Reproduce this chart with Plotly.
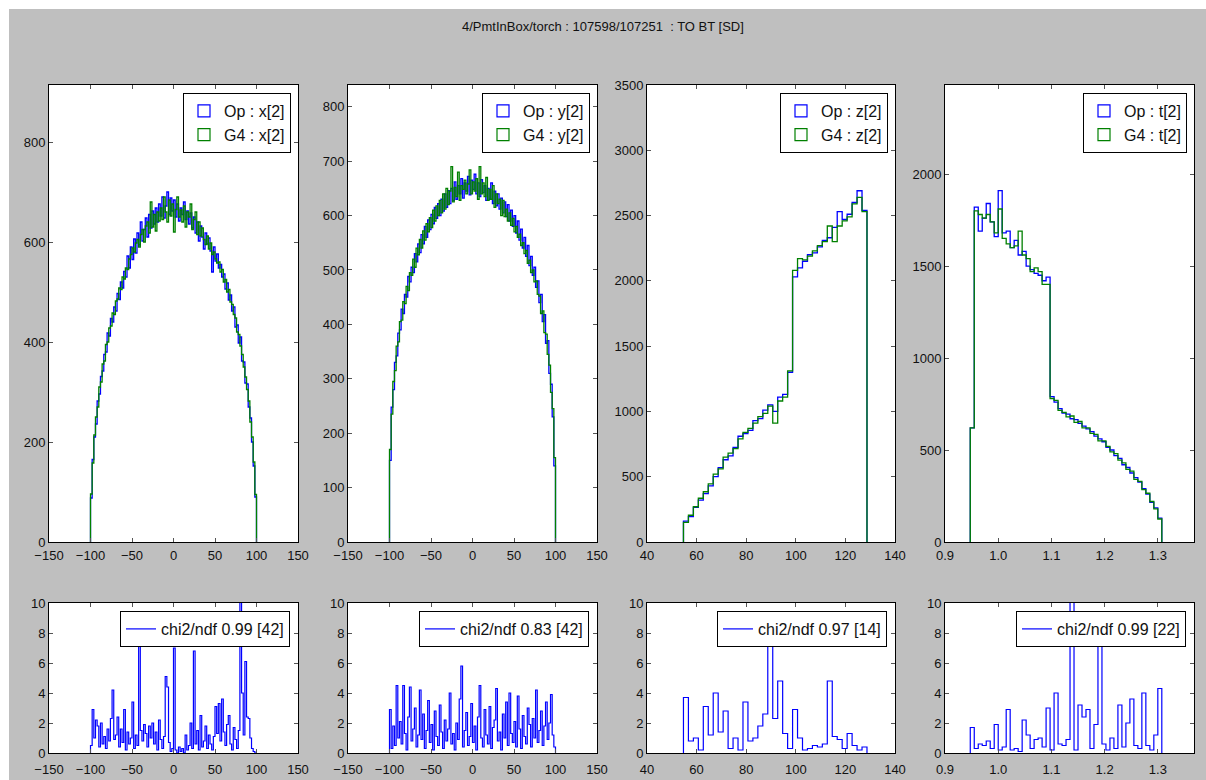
import numpy as np
import plotly.graph_objects as go

TITLE = "4/PmtInBox/torch : 107598/107251  : TO BT [SD]"

# ---------------- x[2] : bins of width 2 from -100 ----------------
x_bin_lo, x_bin_w = -100.0, 2.0
x_op = [88, 165, 210, 236, 282, 296, 331, 342, 375, 380,
        418, 412, 447, 440, 470, 462, 497, 485, 520, 508,
        541, 530, 572, 548, 590, 565, 606, 578, 618, 594,
        640, 602, 625, 648, 610, 655, 628, 662, 636, 668,
        640, 676, 652, 690, 648, 672, 700, 655, 688, 662,
        684, 650, 676, 642, 668, 655, 680, 645, 662, 636,
        658, 628, 650, 618, 640, 602, 632, 610, 586, 618,
        596, 608, 582, 540, 590, 562, 576, 548, 555, 530,
        536, 506, 518, 484, 494, 462, 470, 430, 434, 398,
        410, 362, 360, 318, 316, 270, 248, 200, 152, 90]
x_g4 = [96, 158, 214, 250, 270, 310, 320, 356, 362, 395,
        400, 428, 432, 458, 455, 482, 486, 508, 505, 530,
        526, 548, 545, 566, 575, 588, 580, 598, 605, 590,
        615, 625, 600, 632, 640, 618, 680, 630, 655, 622,
        660, 642, 668, 645, 690, 660, 640, 684, 652, 676,
        620, 665, 690, 650, 664, 640, 672, 630, 660, 650,
        676, 625, 645, 660, 615, 640, 612, 628, 605, 595,
        612, 586, 598, 575, 580, 566, 558, 560, 540, 545,
        520, 525, 500, 505, 480, 475, 455, 448, 420, 415,
        392, 375, 350, 330, 305, 282, 240, 210, 160, 95]
x_chi2 = [0.5, 2.9, 1.0, 2.2, 1.8, 0.4, 2.0, 0.6, 1.1, 0.3,
          1.6, 0.8, 2.3, 4.2, 0.9, 1.2, 2.4, 0.4, 1.6, 0.7,
          2.9, 0.2, 1.4, 0.6, 1.0, 3.4, 0.3, 1.2, 0.5, 7.7,
          1.5, 0.8, 1.9, 1.3, 0.4, 1.8, 1.0, 2.0, 0.6, 1.4,
          0.2, 2.2, 0.9, 0.3, 1.1, 5.1, 4.4, 0.7, 0.1, 0.3,
          7.0, 0.2, 0.0, 0.4, 0.1, 0.3, 0.0, 1.2, 0.2, 0.5,
          2.0, 0.3, 6.8, 0.6, 1.5, 0.2, 2.5, 0.4, 0.8, 1.8,
          0.3, 1.2, 0.6, 0.2, 1.1, 3.1, 1.3, 3.3, 0.8, 3.6,
          1.4, 0.5, 1.9, 2.5, 0.6, 0.2, 1.7, 0.9, 0.3, 1.5,
          10.5, 4.0, 1.2, 6.1, 2.4, 2.3, 1.0, 0.3, 0.1, 0.0]
x_chi2_label = "chi2/ndf 0.99 [42]"

# ---------------- y[2] : bins of width 2 from -100 ----------------
y_bin_lo, y_bin_w = -100.0, 2.0
y_op = [150, 248, 280, 330, 342, 384, 390, 428, 420, 455,
        450, 488, 478, 505, 495, 530, 515, 548, 532, 565,
        548, 580, 560, 592, 574, 602, 585, 615, 595, 622,
        600, 630, 608, 640, 615, 646, 622, 650, 628, 662,
        630, 655, 640, 668, 632, 660, 645, 672, 638, 665,
        648, 676, 640, 660, 635, 666, 642, 655, 628, 650,
        630, 660, 622, 645, 618, 640, 612, 632, 605, 625,
        598, 620, 590, 610, 580, 600, 568, 590, 555, 575,
        540, 560, 525, 545, 508, 525, 490, 505, 468, 480,
        440, 455, 405, 418, 365, 370, 310, 290, 230, 140]
y_g4 = [170, 235, 295, 315, 360, 368, 405, 408, 442, 438,
        470, 462, 495, 490, 520, 505, 540, 528, 556, 540,
        572, 555, 585, 570, 596, 578, 610, 590, 618, 600,
        628, 605, 640, 612, 650, 620, 645, 690, 625, 652,
        635, 680, 628, 655, 648, 665, 640, 658, 684, 640,
        662, 645, 668, 630, 690, 640, 660, 635, 670, 628,
        648, 630, 655, 615, 640, 622, 630, 600, 628, 598,
        612, 590, 605, 582, 595, 570, 580, 560, 566, 545,
        550, 530, 536, 512, 518, 495, 500, 478, 480, 455,
        452, 420, 425, 385, 382, 345, 325, 275, 245, 155]
y_chi2 = [2.9, 0.3, 1.8, 0.5, 4.5, 1.0, 2.1, 0.6, 4.5, 1.3,
          0.2, 2.4, 4.4, 0.8, 1.6, 3.0, 0.4, 1.2, 4.2, 0.9,
          2.6, 0.3, 1.5, 3.5, 0.7, 1.9, 0.2, 2.8, 1.1, 0.5,
          3.2, 1.4, 0.3, 2.2, 0.8, 1.6, 4.0, 0.6, 1.3, 0.2,
          2.0, 0.9, 3.6, 5.8, 0.4, 1.5, 2.7, 0.5, 1.1, 3.3,
          0.7, 1.8, 0.2, 2.4, 4.5, 1.0, 0.4, 2.9, 1.2, 0.6,
          3.1, 0.3, 1.7, 2.2, 4.3, 0.8, 1.4, 0.2, 2.6, 1.0,
          3.4, 0.5, 4.0, 1.3, 0.7, 2.1, 0.4, 3.8, 1.6, 0.3,
          2.5, 1.1, 0.6, 3.0, 1.9, 0.4, 2.3, 1.0, 4.2, 0.7,
          1.5, 2.8, 0.5, 1.8, 3.4, 0.9, 2.0, 3.9, 1.2, 0.4]
y_chi2_label = "chi2/ndf 0.83 [42]"

# ---------------- z[2] : bins of width 2 from 54.7 ----------------
z_bin_lo, z_bin_w = 54.7, 2.0
z_op = [160, 195, 265, 320, 370, 430, 500, 570, 630, 660,
        725, 810, 830, 855, 930, 945, 1010, 1050, 1000, 1110,
        1130, 1300, 2030, 2100, 2150, 2200, 2215, 2260, 2310, 2330,
        2410, 2530, 2470, 2510, 2600, 2690, 2540]
z_g4 = [150, 205, 270, 335, 385, 445, 520, 560, 650, 680,
        715, 790, 840, 870, 910, 960, 985, 1040, 910, 1080,
        1110, 1310, 2080, 2170, 2160, 2190, 2230, 2270, 2300, 2420,
        2300, 2420, 2460, 2490, 2590, 2640, 2530]
z_chi2 = [3.7, 0.8, 1.0, 0.2, 3.1, 1.2, 4.0, 1.4, 2.8, 0.3,
          1.0, 0.2, 3.4, 0.8, 1.0, 1.8, 2.6, 7.8, 2.3, 4.8,
          1.3, 0.3, 2.9, 1.0, 0.2, 0.3, 0.5, 0.4, 0.6, 4.8,
          1.1, 0.9, 0.3, 1.3, 0.5, 0.2, 0.4]
z_chi2_label = "chi2/ndf 0.97 [14]"

# ---------------- t[2] : bins of width 0.0075 from 0.9475 ----------------
t_bin_lo, t_bin_w = 0.9475, 0.0075
t_op = [620, 1820, 1690, 1760, 1840, 1740, 1660, 1910, 1680, 1690,
        1600, 1640, 1560, 1580, 1500, 1480, 1460, 1450, 1420, 1440,
        790, 760, 725, 700, 695, 670, 665, 645, 630, 615,
        600, 575, 560, 545, 515, 500, 470, 455, 420, 405,
        375, 350, 325, 290, 260, 215, 185, 130]
t_g4 = [620, 1800, 1780, 1760, 1780, 1740, 1680, 1810, 1650, 1620,
        1600, 1610, 1690, 1560, 1540, 1470, 1490, 1470, 1400, 1400,
        780, 770, 715, 705, 680, 685, 650, 655, 620, 620,
        590, 585, 550, 550, 520, 490, 480, 445, 430, 395,
        385, 340, 330, 285, 265, 220, 180, 125]
t_chi2 = [1.7, 0.3, 0.6, 0.5, 0.8, 0.3, 1.9, 0.2, 0.4, 2.9,
          0.2, 0.3, 0.1, 2.2, 1.2, 0.3, 0.9, 1.0, 0.4, 3.0,
          0.2, 4.0, 0.6, 0.5, 0.9, 10.5, 0.2, 3.2, 2.4, 2.9,
          0.3, 1.9, 7.7, 0.6, 0.2, 1.0, 0.3, 3.2, 0.4, 2.0,
          3.6, 0.5, 0.3, 4.0, 0.5, 0.2, 1.2, 4.3]
t_chi2_label = "chi2/ndf 0.99 [22]"

panels = [
    dict(var="x[2]", lo=x_bin_lo, w=x_bin_w, op=x_op, g4=x_g4, chi2=x_chi2, lab=x_chi2_label,
         xr=[-150, 150], x0=-150, xd=50, xfmt="", yr=[0, 914], yd=200),
    dict(var="y[2]", lo=y_bin_lo, w=y_bin_w, op=y_op, g4=y_g4, chi2=y_chi2, lab=y_chi2_label,
         xr=[-150, 150], x0=-150, xd=50, xfmt="", yr=[0, 840], yd=100),
    dict(var="z[2]", lo=z_bin_lo, w=z_bin_w, op=z_op, g4=z_g4, chi2=z_chi2, lab=z_chi2_label,
         xr=[40, 140], x0=40, xd=20, xfmt="", yr=[0, 3500], yd=500),
    dict(var="t[2]", lo=t_bin_lo, w=t_bin_w, op=t_op, g4=t_g4, chi2=t_chi2, lab=t_chi2_label,
         xr=[0.9, 1.368], x0=0.9, xd=0.1, xfmt=".1f", yr=[0, 2484], yd=500),
]

# ---------------- layout geometry (pixels) ----------------
W, H = 1206, 780
PANEL_X = [(49, 298), (348, 597), (647, 895), (945, 1194)]
TOP_Y = (85, 542)
BOT_Y = (603, 753)
BLUE, GREEN = "#0000ff", "#008000"
FONT = "Liberation Sans, Arial, Helvetica, sans-serif"


def fx(px):
    return px / W


def fy(py):
    return 1 - py / H


def step_xy(lo, w, vals):
    edges = lo + w * np.arange(len(vals) + 1)
    xs = np.concatenate([[edges[0]], edges])
    ys = np.concatenate([[0.0], np.asarray(vals, float), [0.0]])
    return xs, ys


fig = go.Figure()
layout = {}

for i, p in enumerate(panels):
    top, bot = i + 1, i + 5
    xa_t, ya_t = ("x", "y") if top == 1 else (f"x{top}", f"y{top}")
    xa_b, ya_b = f"x{bot}", f"y{bot}"
    lg_t = "legend" if top == 1 else f"legend{top}"
    lg_b = f"legend{bot}"

    xs, ys = step_xy(p["lo"], p["w"], p["op"])
    fig.add_trace(go.Scatter(x=xs, y=ys, mode="lines", line=dict(color=BLUE, width=1.3, shape="hv"),
                             xaxis=xa_t, yaxis=ya_t, showlegend=False, hoverinfo="skip"))
    xs, ys = step_xy(p["lo"], p["w"], p["g4"])
    fig.add_trace(go.Scatter(x=xs, y=ys, mode="lines", line=dict(color=GREEN, width=1.3, shape="hv"),
                             xaxis=xa_t, yaxis=ya_t, showlegend=False, hoverinfo="skip"))
    # legend entries (outlined patches like the histogram legend)
    fig.add_trace(go.Bar(x=[None], y=[None], name=f"Op : {p['var']}",
                         marker=dict(color="rgba(0,0,0,0)", line=dict(color=BLUE, width=1.2)),
                         xaxis=xa_t, yaxis=ya_t, legend=lg_t, showlegend=True))
    fig.add_trace(go.Bar(x=[None], y=[None], name=f"G4 : {p['var']}",
                         marker=dict(color="rgba(0,0,0,0)", line=dict(color=GREEN, width=1.2)),
                         xaxis=xa_t, yaxis=ya_t, legend=lg_t, showlegend=True))

    xs, ys = step_xy(p["lo"], p["w"], p["chi2"])
    fig.add_trace(go.Scatter(x=xs, y=ys, mode="lines", line=dict(color=BLUE, width=1.2, shape="hv"),
                             name=p["lab"], xaxis=xa_b, yaxis=ya_b, legend=lg_b, showlegend=True,
                             hoverinfo="skip"))

    L, R = PANEL_X[i]
    common = dict(ticks="inside", ticklen=4, tickcolor="#555", tickwidth=1, mirror="allticks",
                  showline=True, linecolor="black", linewidth=1, showgrid=False, zeroline=False,
                  automargin=False, tickfont=dict(family=FONT, size=13, color="#111"), type="linear")
    for ax_i, (ya_range, ya_dtick, ydom, stand) in ((top, (p["yr"], p["yd"], TOP_Y, 1)),
                                                     (bot, ([0, 10], 2, BOT_Y, 4))):
        xkey = "xaxis" if ax_i == 1 else f"xaxis{ax_i}"
        ykey = "yaxis" if ax_i == 1 else f"yaxis{ax_i}"
        layout[xkey] = dict(domain=[fx(L), fx(R)], anchor="y" if ax_i == 1 else f"y{ax_i}",
                            range=p["xr"], tick0=p["x0"], dtick=p["xd"], tickformat=p["xfmt"],
                            ticklabelstandoff=stand, **common)
        layout[ykey] = dict(domain=[fy(ydom[1]), fy(ydom[0])], anchor="x" if ax_i == 1 else f"x{ax_i}",
                            range=ya_range, tick0=0, dtick=ya_dtick, **common)

    leg = dict(xref="paper", yref="paper", xanchor="right", yanchor="top", bgcolor="white",
               bordercolor="black", borderwidth=1, font=dict(family=FONT, size=16, color="#111"),
               itemclick=False, itemdoubleclick=False)
    layout[lg_t] = dict(leg, x=fx(R - 7), y=fy(TOP_Y[0] + 8))
    layout[lg_b] = dict(leg, x=fx(R - 8), y=fy(BOT_Y[0] + 8))

fig.update_layout(**layout)
fig.update_layout(
    template="none",
    width=W, height=H, margin=dict(l=0, r=0, t=0, b=0, pad=0, autoexpand=False),
    paper_bgcolor="#bfbfbf", plot_bgcolor="white", hovermode=False,
    font=dict(family=FONT, size=13, color="#111"),
    shapes=[
        dict(type="rect", xref="paper", yref="paper", x0=-0.01, x1=fx(9), y0=-0.01, y1=1.01,
             fillcolor="white", line=dict(width=0), layer="above"),
        dict(type="rect", xref="paper", yref="paper", x0=-0.01, x1=1.01, y0=fy(9), y1=1.01,
             fillcolor="white", line=dict(width=0), layer="above"),
    ],
    annotations=[dict(text=TITLE, xref="paper", yref="paper", x=0.5, y=fy(27), xanchor="center",
                      yanchor="middle", showarrow=False, font=dict(family=FONT, size=13, color="#111"))],
)

# place the fixed-size figure flush with the window (no default page margin)
fig.write_html("out.html",
               config={"displayModeBar": False},
               post_script="document.body.style.margin='0';document.body.style.overflow='hidden';")
